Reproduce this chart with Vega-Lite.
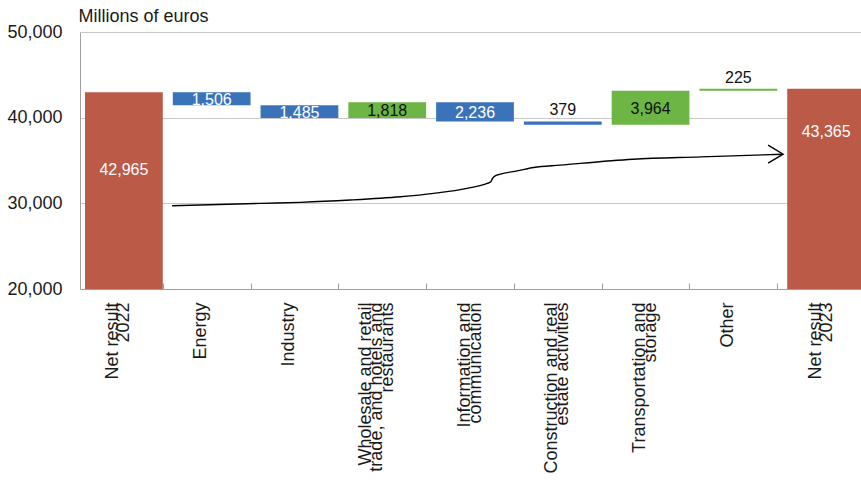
{
  "$schema": "https://vega.github.io/schema/vega-lite/v6.json",
  "width": 781,
  "height": 257,
  "autosize": "none",
  "padding": {"left": 80, "top": 32, "right": 0, "bottom": 198},
  "config": {
    "font": "Liberation Sans",
    "view": {"stroke": null}
  },
  "datasets": {
    "bars": [
      {"category": "Net result 2022", "kind": "total", "amount": 42965, "lo": 0, "hi": 42965},
      {"category": "Energy", "kind": "decrease", "amount": 1506, "lo": 41459, "hi": 42965},
      {"category": "Industry", "kind": "decrease", "amount": 1485, "lo": 39974, "hi": 41459},
      {"category": "Wholesale and retail trade, and hotels and restaurants", "kind": "increase", "amount": 1818, "lo": 39974, "hi": 41792},
      {"category": "Information and communication", "kind": "decrease", "amount": 2236, "lo": 39556, "hi": 41792},
      {"category": "Construction and real estate activities", "kind": "decrease", "amount": 379, "lo": 39177, "hi": 39556},
      {"category": "Transportation and storage", "kind": "increase", "amount": 3964, "lo": 39177, "hi": 43141},
      {"category": "Other", "kind": "increase", "amount": 225, "lo": 43141, "hi": 43366},
      {"category": "Net result 2023", "kind": "total", "amount": 43365, "lo": 0, "hi": 43365}
    ],
    "arrow": [
      {"pos": 1.05, "value": 29720},
      {"pos": 2.06, "value": 30000},
      {"pos": 2.51, "value": 30116},
      {"pos": 3.08, "value": 30384},
      {"pos": 3.65, "value": 30767},
      {"pos": 4.03, "value": 31163},
      {"pos": 4.41, "value": 31745},
      {"pos": 4.64, "value": 32326},
      {"pos": 4.68, "value": 32512},
      {"pos": 4.70, "value": 32907},
      {"pos": 4.73, "value": 33210},
      {"pos": 4.79, "value": 33408},
      {"pos": 4.98, "value": 33791},
      {"pos": 5.17, "value": 34187},
      {"pos": 5.47, "value": 34454},
      {"pos": 6.30, "value": 35152},
      {"pos": 7.07, "value": 35419},
      {"pos": 8.01, "value": 35733}
    ]
  },
  "resolve": {"scale": {"x": "independent"}},
  "layer": [
    {
      "data": {"name": "bars"},
      "layer": [
        {
          "mark": {"type": "bar", "clip": true},
          "encoding": {
            "x": {
              "field": "category",
              "type": "nominal",
              "sort": null,
              "scale": {"range": [0, 790], "paddingInner": 0.114, "paddingOuter": 0.057},
              "axis": {
                "title": null,
                "labelExpr": "datum.value === 'Net result 2022' ? ['\u00a0', 'Net result', '\u00a0', '2022'] : datum.value === 'Net result 2023' ? ['\u00a0', 'Net result', '\u00a0', '2023'] : datum.value === 'Wholesale and retail trade, and hotels and restaurants' ? ['Wholesale and retail', '\u00a0', 'trade, and hotels and', '\u00a0', 'restaurants'] : datum.value === 'Information and communication' ? ['\u00a0', 'Information and', '\u00a0', 'communication'] : datum.value === 'Construction and real estate activities' ? ['\u00a0', 'Construction and real', '\u00a0', 'estate activities'] : datum.value === 'Transportation and storage' ? ['\u00a0', 'Transportation and', '\u00a0', 'storage'] : ['\u00a0', '\u00a0', datum.value]",
                "labelAngle": -90,
                "labelAlign": "right",
                "labelBaseline": "middle",
                "labelFontSize": 18,
                "labelLineHeight": 11,
                "labelLimit": 400,
                "labelOverlap": false,
                "labelColor": "#1a1a1a",
                "labelPadding": 19,
                "labelOffset": -22,
                "tickBand": "extent",
                "tickColor": "#a0a0a0",
                "tickSize": -6,
                "domainColor": "#a0a0a0",
                "grid": false
              }
            },
            "y": {
              "field": "lo",
              "type": "quantitative",
              "scale": {"domain": [20000, 50000], "zero": false, "nice": false},
              "axis": {
                "title": "Millions of euros",
                "values": [20000, 30000, 40000, 50000],
                "format": ",d",
                "grid": true,
                "gridColor": "#c8c8c8",
                "ticks": false,
                "domainColor": "#a0a0a0",
                "labelFontSize": 18,
                "labelColor": "#1a1a1a",
                "labelPadding": 18,
                "titleAngle": 0,
                "titleAlign": "left",
                "titleBaseline": "middle",
                "titleX": -2,
                "titleY": -16,
                "titleFontSize": 18,
                "titleFontWeight": "normal",
                "titleColor": "#1a1a1a"
              }
            },
            "y2": {"field": "hi"},
            "color": {
              "field": "kind",
              "type": "nominal",
              "scale": {"domain": ["total", "decrease", "increase"], "range": ["#ba5a47", "#3b73ba", "#6db545"]},
              "legend": null
            }
          }
        },
        {
          "transform": [
            {"filter": "datum.kind !== 'total' && datum.hi - datum.lo > 600"},
            {"fold": ["lo", "hi"], "as": ["end", "val"]},
            {"aggregate": [{"op": "mean", "field": "val", "as": "mid"}], "groupby": ["category", "kind", "amount"]}
          ],
          "mark": {"type": "text", "fontSize": 16, "baseline": "middle", "dy": 1},
          "encoding": {
            "x": {"field": "category", "type": "nominal", "sort": null},
            "y": {"field": "mid", "type": "quantitative"},
            "text": {"field": "amount", "type": "quantitative", "format": ",d"},
            "color": {
              "condition": {"test": "datum.kind === 'increase'", "value": "#111111"},
              "value": "#ffffff"
            }
          }
        },
        {
          "transform": [{"filter": "datum.kind !== 'total' && datum.hi - datum.lo <= 600"}],
          "mark": {"type": "text", "fontSize": 16, "baseline": "middle", "dy": -11, "color": "#111111"},
          "encoding": {
            "x": {"field": "category", "type": "nominal", "sort": null},
            "y": {"field": "hi", "type": "quantitative"},
            "text": {"field": "amount", "type": "quantitative", "format": ",d"}
          }
        },
        {
          "transform": [{"filter": "datum.kind === 'total' && datum.amount < 43000"}],
          "mark": {"type": "text", "fontSize": 16, "baseline": "middle", "color": "#ffffff"},
          "encoding": {
            "x": {"field": "category", "type": "nominal", "sort": null},
            "y": {"datum": 33870, "type": "quantitative"},
            "text": {"field": "amount", "type": "quantitative", "format": ",d"}
          }
        },
        {
          "transform": [{"filter": "datum.kind === 'total' && datum.amount > 43000"}],
          "mark": {"type": "text", "fontSize": 16, "baseline": "middle", "color": "#ffffff"},
          "encoding": {
            "x": {"field": "category", "type": "nominal", "sort": null},
            "y": {"datum": 38330, "type": "quantitative"},
            "text": {"field": "amount", "type": "quantitative", "format": ",d"}
          }
        }
      ]
    },
    {
      "data": {"name": "arrow"},
      "encoding": {
        "x": {"field": "pos", "type": "quantitative", "scale": {"domain": [0, 9], "range": [0, 790]}, "axis": null},
        "y": {"field": "value", "type": "quantitative"}
      },
      "layer": [
        {
          "mark": {"type": "line", "interpolate": "monotone", "color": "#000000", "strokeWidth": 1.4}
        },
        {
          "transform": [{"filter": "datum.pos > 8"}],
          "mark": {"type": "point", "shape": "M-1,-0.6L0,0L-1,0.6", "size": 900, "filled": false, "color": "#000000", "strokeWidth": 1.4, "opacity": 1}
        }
      ]
    }
  ]
}
